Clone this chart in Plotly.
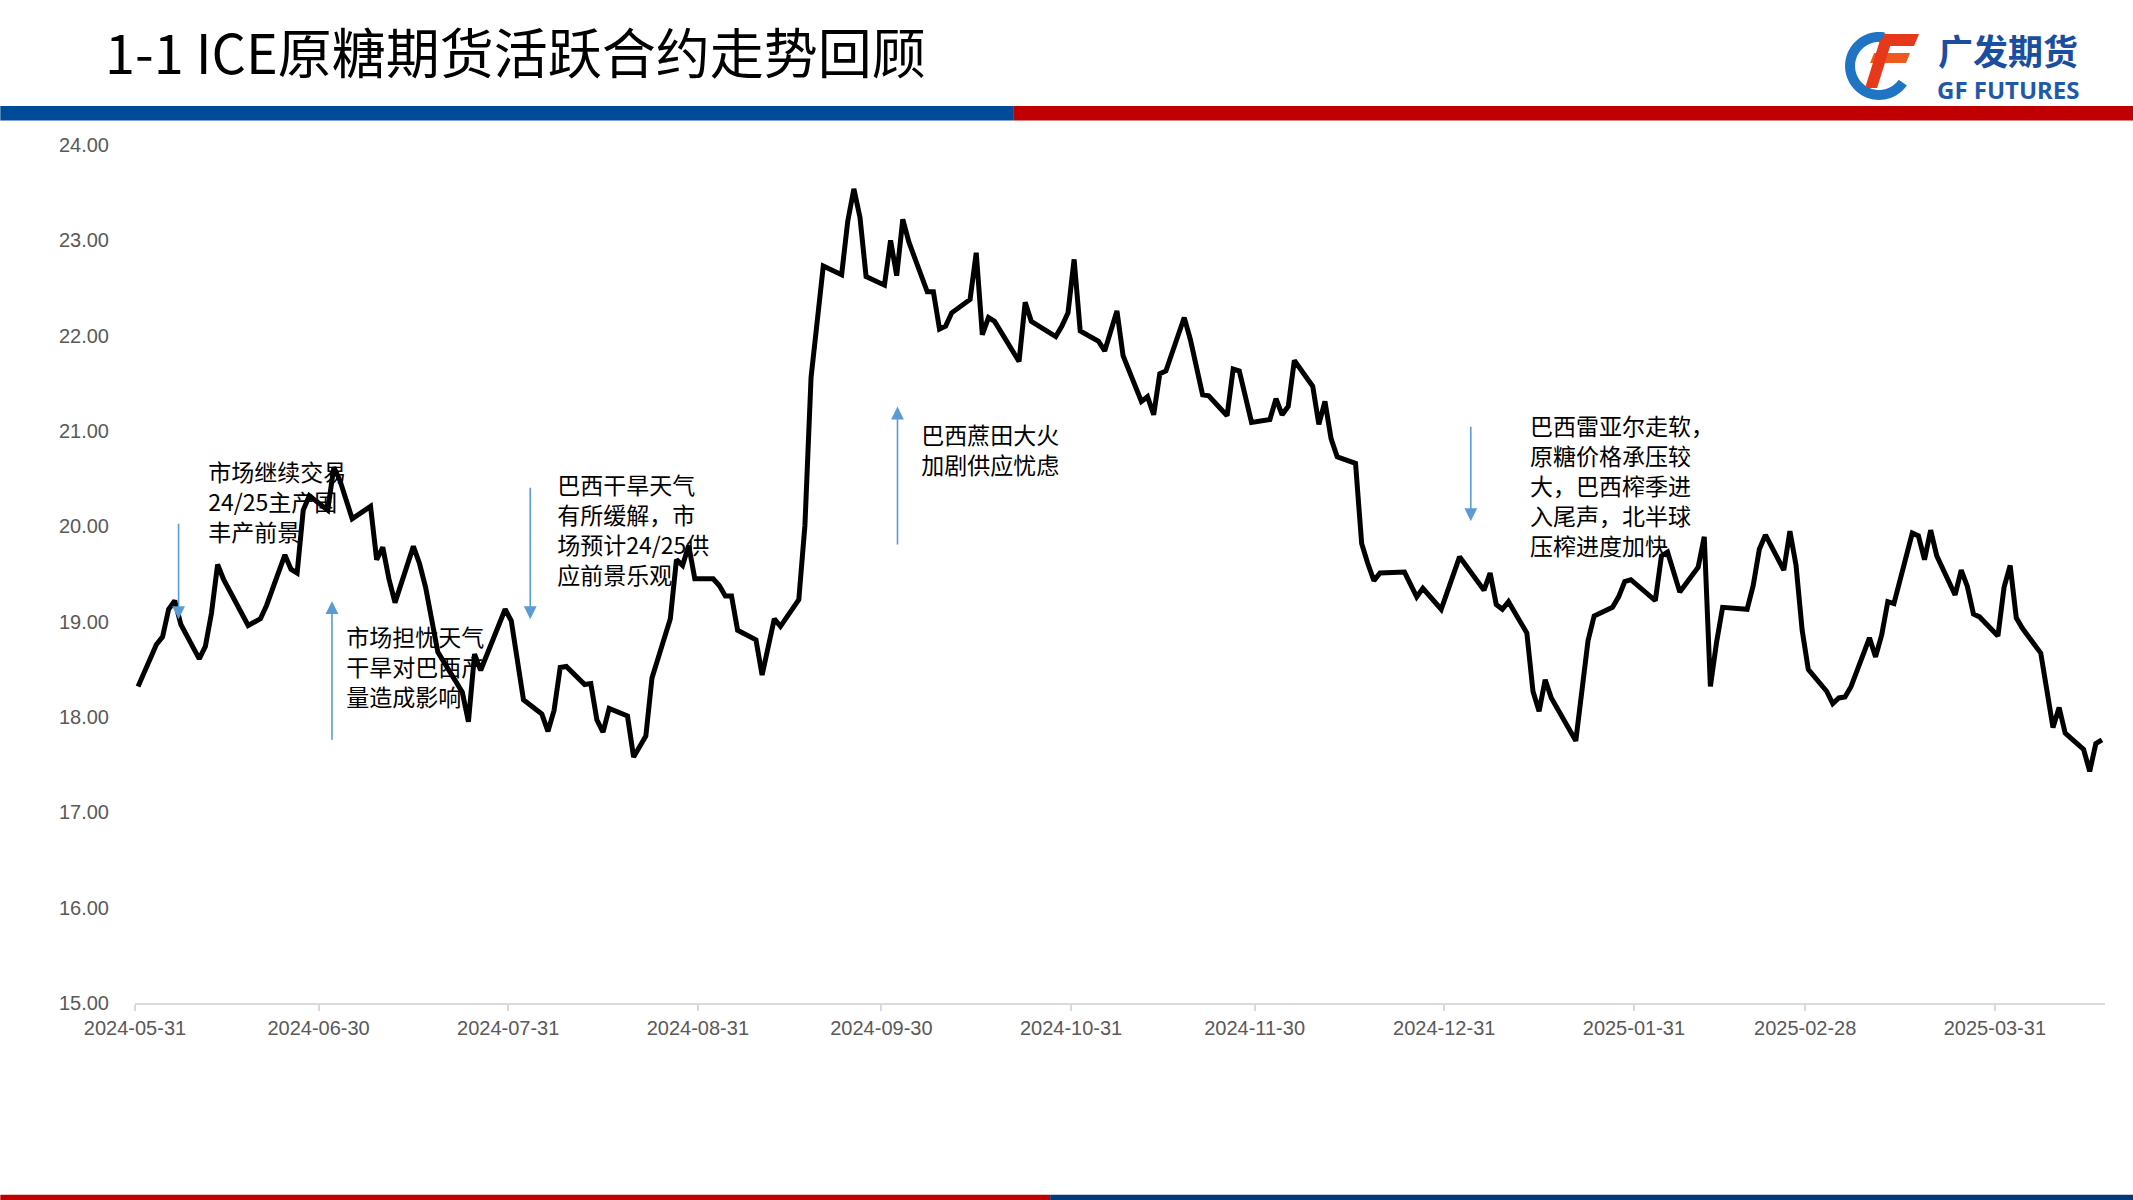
import math
import pandas as pd
import plotly.graph_objects as go

# ---------------- data ----------------
dates = [
    "2024-05-31", "2024-06-03", "2024-06-04", "2024-06-05", "2024-06-06", "2024-06-07",
    "2024-06-10", "2024-06-11", "2024-06-12", "2024-06-13", "2024-06-14", "2024-06-18",
    "2024-06-20", "2024-06-21", "2024-06-24", "2024-06-25", "2024-06-26", "2024-06-27",
    "2024-06-28", "2024-07-01", "2024-07-02", "2024-07-03", "2024-07-05", "2024-07-08",
    "2024-07-09", "2024-07-10", "2024-07-11", "2024-07-12", "2024-07-15", "2024-07-16",
    "2024-07-17", "2024-07-19", "2024-07-23", "2024-07-24", "2024-07-25", "2024-07-26",
    "2024-07-30", "2024-07-31", "2024-08-02", "2024-08-05", "2024-08-06", "2024-08-07",
    "2024-08-08", "2024-08-09", "2024-08-12", "2024-08-13", "2024-08-14", "2024-08-15",
    "2024-08-16", "2024-08-19", "2024-08-20", "2024-08-21", "2024-08-22", "2024-08-23",
    "2024-08-26", "2024-08-27", "2024-08-28", "2024-08-29", "2024-08-30", "2024-09-02",
    "2024-09-03", "2024-09-04", "2024-09-05", "2024-09-06", "2024-09-09", "2024-09-10",
    "2024-09-12", "2024-09-13", "2024-09-16", "2024-09-17", "2024-09-18", "2024-09-20",
    "2024-09-23", "2024-09-24", "2024-09-25", "2024-09-26", "2024-09-27", "2024-09-30",
    "2024-10-01", "2024-10-02", "2024-10-03", "2024-10-04", "2024-10-07", "2024-10-08",
    "2024-10-09", "2024-10-10", "2024-10-11", "2024-10-14", "2024-10-15", "2024-10-16",
    "2024-10-17", "2024-10-18", "2024-10-22", "2024-10-23", "2024-10-24", "2024-10-28",
    "2024-10-29", "2024-10-30", "2024-10-31", "2024-11-01", "2024-11-04", "2024-11-05",
    "2024-11-07", "2024-11-08", "2024-11-11", "2024-11-12", "2024-11-13", "2024-11-14",
    "2024-11-15", "2024-11-18", "2024-11-19", "2024-11-21", "2024-11-22", "2024-11-25",
    "2024-11-26", "2024-11-27", "2024-11-29", "2024-12-02", "2024-12-03", "2024-12-04",
    "2024-12-05", "2024-12-06", "2024-12-09", "2024-12-10", "2024-12-11", "2024-12-12",
    "2024-12-13", "2024-12-16", "2024-12-17", "2024-12-18", "2024-12-19", "2024-12-20",
    "2024-12-24", "2024-12-26", "2024-12-27", "2024-12-30", "2025-01-02", "2025-01-06",
    "2025-01-07", "2025-01-08", "2025-01-09", "2025-01-10", "2025-01-13", "2025-01-14",
    "2025-01-15", "2025-01-16", "2025-01-17", "2025-01-21", "2025-01-22", "2025-01-23",
    "2025-01-24", "2025-01-27", "2025-01-28", "2025-01-29", "2025-01-30", "2025-02-03",
    "2025-02-04", "2025-02-05", "2025-02-07", "2025-02-10", "2025-02-11", "2025-02-12",
    "2025-02-13", "2025-02-14", "2025-02-18", "2025-02-19", "2025-02-20", "2025-02-21",
    "2025-02-24", "2025-02-25", "2025-02-26", "2025-02-27", "2025-02-28", "2025-03-03",
    "2025-03-04", "2025-03-05", "2025-03-06", "2025-03-07", "2025-03-10", "2025-03-11",
    "2025-03-12", "2025-03-13", "2025-03-14", "2025-03-17", "2025-03-18", "2025-03-19",
    "2025-03-20", "2025-03-21", "2025-03-24", "2025-03-25", "2025-03-26", "2025-03-27",
    "2025-03-28", "2025-03-31", "2025-04-01", "2025-04-02", "2025-04-03", "2025-04-04",
    "2025-04-07", "2025-04-09", "2025-04-10", "2025-04-11", "2025-04-14", "2025-04-15",
    "2025-04-16", "2025-04-17",
]

prices = [
    18.32, 18.76, 18.84, 19.13, 19.22, 18.97,
    18.61, 18.74, 19.09, 19.60, 19.44, 18.96,
    19.03, 19.17, 19.70, 19.55, 19.51, 20.17,
    20.32, 20.17, 20.62, 20.48, 20.08, 20.21,
    19.65, 19.78, 19.45, 19.20, 19.79, 19.61,
    19.36, 18.68, 18.26, 17.95, 18.66, 18.49,
    19.13, 19.01, 18.18, 18.03, 17.85, 18.07,
    18.52, 18.53, 18.34, 18.35, 17.97, 17.84,
    18.09, 18.01, 17.58, 17.70, 17.80, 18.41,
    19.03, 19.65, 19.59, 19.80, 19.45, 19.45,
    19.38, 19.27, 19.27, 18.91, 18.81, 18.44,
    19.03, 18.95, 19.23, 20.01, 21.56, 22.73,
    22.64, 23.20, 23.54, 23.24, 22.62, 22.53,
    23.00, 22.63, 23.22, 22.98, 22.46, 22.46,
    22.07, 22.10, 22.24, 22.38, 22.87, 22.01,
    22.19, 22.15, 21.73, 22.35, 22.15, 21.99,
    22.10, 22.24, 22.80, 22.05, 21.94, 21.84,
    22.26, 21.79, 21.31, 21.36, 21.17, 21.60,
    21.63, 22.19, 21.96, 21.38, 21.37, 21.16,
    21.65, 21.63, 21.09, 21.12, 21.34, 21.17,
    21.26, 21.74, 21.47, 21.07, 21.31, 20.92,
    20.73, 20.66, 19.82, 19.61, 19.43, 19.51,
    19.52, 19.26, 19.35, 19.13, 19.68, 19.33,
    19.51, 19.18, 19.13, 19.21, 18.88, 18.27,
    18.06, 18.39, 18.20, 17.75, 18.25, 18.80,
    19.06, 19.15, 19.26, 19.42, 19.44, 19.22,
    19.69, 19.73, 19.31, 19.57, 19.89, 18.32,
    18.78, 19.15, 19.13, 19.38, 19.76, 19.91,
    19.54, 19.95, 19.59, 18.91, 18.50, 18.27,
    18.14, 18.20, 18.21, 18.32, 18.83, 18.63,
    18.86, 19.21, 19.19, 19.93, 19.90, 19.65,
    19.96, 19.69, 19.28, 19.54, 19.37, 19.08,
    19.05, 18.85, 19.36, 19.59, 19.04, 18.93,
    18.67, 17.89, 18.10, 17.83, 17.66, 17.43,
    17.72, 17.76,
]

tick_dates = ["2024-05-31", "2024-06-30", "2024-07-31", "2024-08-31", "2024-09-30",
              "2024-10-31", "2024-11-30", "2024-12-31", "2025-01-31", "2025-02-28",
              "2025-03-31"]
y_min, y_max, y_step = 15, 24, 1

title_text = "1-1 ICE原糖期货活跃合约走势回顾"
logo_cn = "广发期货"
logo_en = "GF FUTURES"

note_texts = [
    "市场继续交易<br>24/25主产国<br>丰产前景",
    "市场担忧天气<br>干旱对巴西产<br>量造成影响",
    "巴西干旱天气<br>有所缓解，市<br>场预计24/25供<br>应前景乐观",
    "巴西蔗田大火<br>加剧供应忧虑",
    "巴西雷亚尔走软，<br>原糖价格承压较<br>大，巴西榨季进<br>入尾声，北半球<br>压榨进度加快",
]

# ---------------- layout geometry (pixels) ----------------
W, H = 2133, 1200
L, R, T, B = 134.7, 2105.0, 145.0, 1002.7

x_start = pd.Timestamp(dates[0]) - pd.Timedelta(hours=12)
x_end = pd.Timestamp(dates[-1]) + pd.Timedelta(hours=12)


def pxx(px):
    return (px - L) / (R - L)


def pxy(py):
    return (B - py) / (B - T)


def data_x(px):
    return x_start + (x_end - x_start) * ((px - L) / (R - L))


def data_y(py):
    return y_max - (py - T) / (B - T) * (y_max - y_min)


note_pos = [(208, 505), (346, 670), (557, 533), (921, 453), (1530, 489)]
arrows = [  # tip x, tip y, tail y
    (178.3, 619, 522),
    (331.7, 601, 741),
    (530.0, 619, 486),
    (897.3, 406.5, 546),
    (1470.7, 521, 425),
]

fig = go.Figure()

# annotation texts (drawn below the price line)
fig.add_trace(go.Scatter(
    x=[data_x(p[0]) for p in note_pos],
    y=[data_y(p[1]) for p in note_pos],
    text=note_texts,
    mode="text",
    textposition="middle right",
    textfont=dict(family="Noto Sans CJK SC", size=23, color="#000000"),
    hoverinfo="skip",
    showlegend=False,
    cliponaxis=False,
))

fig.add_trace(go.Scatter(
    x=pd.to_datetime(dates),
    y=prices,
    mode="lines",
    line=dict(color="#000000", width=5),
    showlegend=False,
    name="ICE原糖",
))

tickvals = [pd.Timestamp(d) - pd.Timedelta(hours=12) for d in tick_dates]

fig.update_layout(
    width=W, height=H,
    margin=dict(l=L, r=W - R, t=T, b=H - B, pad=0),
    paper_bgcolor="white",
    plot_bgcolor="white",
    showlegend=False,
    xaxis=dict(
        type="date",
        range=[x_start, x_end],
        tickmode="array",
        tickvals=tickvals,
        ticktext=tick_dates,
        showgrid=False,
        zeroline=False,
        showline=True,
        linecolor="#D9D9D9",
        linewidth=1.5,
        ticks="outside",
        ticklen=6,
        tickwidth=1.5,
        tickcolor="#D9D9D9",
        tickfont=dict(family="Liberation Sans, Arial", size=20, color="#595959"),
    ),
    yaxis=dict(
        range=[y_min, y_max],
        tickmode="linear",
        tick0=y_min,
        dtick=y_step,
        tickformat=".2f",
        showgrid=False,
        zeroline=False,
        showline=False,
        ticks="outside",
        ticklen=21,
        tickcolor="rgba(0,0,0,0)",
        tickfont=dict(family="Liberation Sans, Arial", size=20, color="#595959"),
    ),
)

# arrows
for tx, ty, tail in arrows:
    fig.add_annotation(
        x=pxx(tx), y=pxy(ty), xref="paper", yref="paper",
        ax=0, ay=tail - ty, axref="pixel", ayref="pixel",
        text="", showarrow=True, arrowhead=2, arrowsize=1.6, arrowwidth=1.6,
        arrowcolor="#5B9BD5", standoff=0,
    )

# title
fig.add_annotation(
    x=pxx(103), y=pxy(51), xref="paper", yref="paper",
    xanchor="left", yanchor="middle", showarrow=False,
    text=title_text,
    font=dict(family="Noto Sans CJK SC", size=54, color="#000000"),
)

# logo text
fig.add_annotation(
    x=pxx(2008), y=pxy(50), xref="paper", yref="paper",
    xanchor="center", yanchor="middle", showarrow=False, borderpad=0,
    text="<b>" + logo_cn + "</b>",
    font=dict(family="Noto Sans CJK SC", size=35, color="#1A4E9E"),
)
fig.add_annotation(
    x=pxx(2008), y=pxy(90), xref="paper", yref="paper",
    xanchor="center", yanchor="middle", showarrow=False, borderpad=0,
    text="<b>" + logo_en + "</b>",
    font=dict(family="Noto Sans, Roboto", size=24, color="#1E5AA8"),
)


def rect(x0, x1, y0, y1, color):
    fig.add_shape(type="rect", xref="paper", yref="paper",
                  x0=pxx(x0), x1=pxx(x1), y0=pxy(y1), y1=pxy(y0),
                  fillcolor=color, line=dict(width=0), layer="above")


def poly(points, color):
    path = "M " + " L ".join(f"{pxx(a):.6f},{pxy(b):.6f}" for a, b in points) + " Z"
    fig.add_shape(type="path", xref="paper", yref="paper", path=path,
                  fillcolor=color, line=dict(width=0), layer="above")


# header / footer bars
rect(0, 1013, 106, 120.5, "#004B97")
rect(1013, W, 106, 120.5, "#C00000")
rect(0, 1050, 1194.5, H, "#C00000")
rect(1050, W, 1194.5, H, "#003A78")

# logo mark: blue ring + red F
cx, cy, ro, ri = 1879, 66, 34, 24
outer = [(cx + ro * math.cos(math.radians(a)), cy - ro * math.sin(math.radians(a)))
         for a in range(80, 326, 5)]
inner = [(cx + ri * math.cos(math.radians(a)), cy - ri * math.sin(math.radians(a)))
         for a in range(325, 79, -5)]
poly(outer + inner, "#1F74C4")
poly([(1884, 34), (1919, 34), (1914, 46), (1880, 46)], "#E8381B")
poly([(1874, 53), (1910, 53), (1906, 63), (1870, 63)], "#EE5A1E")
poly([(1880, 40), (1892, 40), (1877, 88), (1865, 88)], "#E8381B")

fig.write_html(
    "out.html",
    config={"displayModeBar": False},
    post_script="document.body.style.margin='0';document.body.style.overflow='hidden';",
)
